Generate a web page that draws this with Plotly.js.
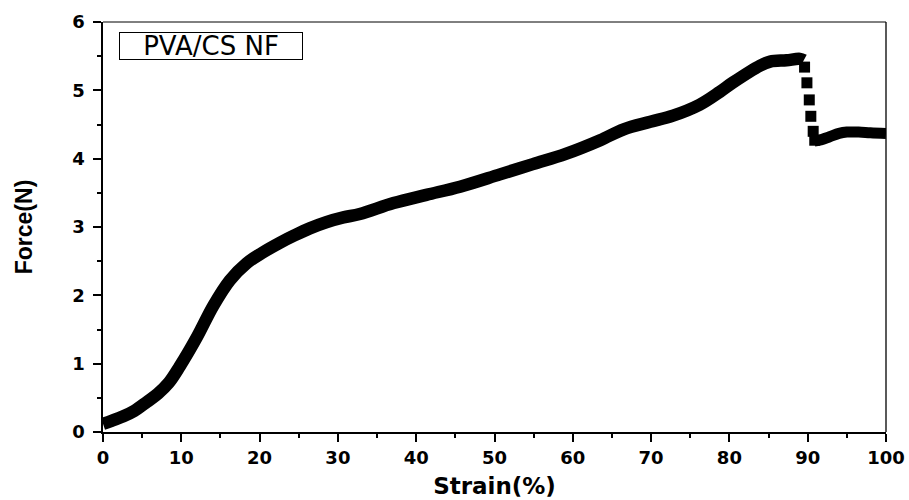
<!DOCTYPE html>
<html>
<head>
<meta charset="utf-8">
<script src="https://cdn.plot.ly/plotly-3.0.1.min.js"></script>
<style>
  html, body { margin: 0; padding: 0; background: #ffffff; }
  #chart { width: 909px; height: 500px; }
</style>
</head>
<body>
<div id="chart"></div>
<script>
// Main loading curve (Strain %, Force N)
var strainMain = [0, 1.0, 2.6, 4.0, 5.6, 7.0, 8.4, 9.8, 12.0, 14.1, 16.2, 18.35, 20.3, 22.6, 24.5, 26.4, 28.5, 30.7, 32.8, 37.1, 41.3, 45.6, 50.7, 54.9, 59.1, 63.5, 66.5, 69.9, 72.8, 76.2, 78.8, 80.4, 83.9, 85.2, 87.3, 89.0, 89.5];
var forceMain  = [0.12, 0.16, 0.23, 0.31, 0.44, 0.56, 0.72, 0.96, 1.39, 1.85, 2.22, 2.47, 2.62, 2.77, 2.88, 2.98, 3.07, 3.14, 3.19, 3.35, 3.47, 3.59, 3.77, 3.92, 4.07, 4.27, 4.43, 4.54, 4.63, 4.79, 4.98, 5.11, 5.36, 5.42, 5.44, 5.46, 5.44];
// Failure drop (sparse points)
var strainDrop = [89.6, 89.9, 90.2, 90.4, 90.7, 90.9];
var forceDrop  = [5.34, 5.11, 4.86, 4.62, 4.40, 4.27];
// Post-failure tail
var strainTail = [90.9, 91.5, 92.8, 94.0, 95.0, 96.5, 98.0, 100];
var forceTail  = [4.26, 4.27, 4.32, 4.37, 4.39, 4.39, 4.38, 4.37];

var xTicks = [0, 10, 20, 30, 40, 50, 60, 70, 80, 90, 100];
var yTicks = [0, 1, 2, 3, 4, 5, 6];
var legendLabel = 'PVA/CS NF';

var tickFont = {family: 'DejaVu Sans', size: 18, color: '#000', weight: 700};
function bold(v) { return '<b>' + v + '</b>'; }

var traces = [
  {x: strainMain, y: forceMain, type: 'scatter', mode: 'lines',
   line: {color: '#000', width: 12.5, shape: 'spline', smoothing: 1}, hoverinfo: 'skip', showlegend: false},
  {x: strainDrop, y: forceDrop, type: 'scatter', mode: 'markers',
   marker: {symbol: 'square', size: 11, color: '#000'}, hoverinfo: 'skip', showlegend: false},
  {x: strainTail, y: forceTail, type: 'scatter', mode: 'lines',
   line: {color: '#000', width: 11, shape: 'spline', smoothing: 1}, hoverinfo: 'skip', showlegend: false}
];

var layout = {
  width: 909, height: 500,
  margin: {l: 103, r: 23, t: 22, b: 68},
  paper_bgcolor: '#fff', plot_bgcolor: '#fff',
  showlegend: false,
  xaxis: {
    range: [0, 100], tickvals: xTicks, ticktext: xTicks.map(bold),
    showline: true, linecolor: '#000', linewidth: 2,
    ticks: 'outside', ticklen: 8, tickwidth: 2, tickcolor: '#000',
    minor: {dtick: 5, ticks: 'outside', ticklen: 4, tickwidth: 2, tickcolor: '#000', showgrid: false},
    showgrid: false, zeroline: false, tickfont: tickFont, automargin: false,
    title: {text: 'Strain(%)', font: {family: 'DejaVu Sans', size: 23, color: '#000', weight: 700}, standoff: 11}
  },
  yaxis: {
    range: [0, 6], tickvals: yTicks, ticktext: yTicks.map(bold),
    showline: true, linecolor: '#000', linewidth: 2.5,
    ticks: 'outside', ticklen: 8, tickwidth: 2, tickcolor: '#000',
    minor: {dtick: 0.5, ticks: 'outside', ticklen: 4, tickwidth: 2, tickcolor: '#000', showgrid: false},
    showgrid: false, zeroline: false, tickfont: tickFont, automargin: false,
    ticklabelstandoff: 4,
    title: {text: 'Force(N)', font: {family: 'Liberation Sans', size: 23, color: '#000', weight: 700}, standoff: 34}
  },
  shapes: [
    {type: 'line', xref: 'paper', yref: 'paper', x0: 0, x1: 1, y0: 1, y1: 1, line: {color: '#000', width: 1}},
    {type: 'line', xref: 'paper', yref: 'paper', x0: 1, x1: 1, y0: 0, y1: 1, line: {color: '#000', width: 1.3}}
  ],
  annotations: [
    {xref: 'paper', yref: 'paper', x: 0.021, y: 0.976, xanchor: 'left', yanchor: 'top',
     text: legendLabel, showarrow: false, width: 180, height: 24, align: 'center',
     font: {family: 'DejaVu Sans', size: 26, color: '#000'},
     bordercolor: '#000', borderwidth: 1, borderpad: 1, bgcolor: '#fff'}
  ]
};

Plotly.newPlot('chart', traces, layout, {staticPlot: true, displayModeBar: false});
</script>
</body>
</html>
